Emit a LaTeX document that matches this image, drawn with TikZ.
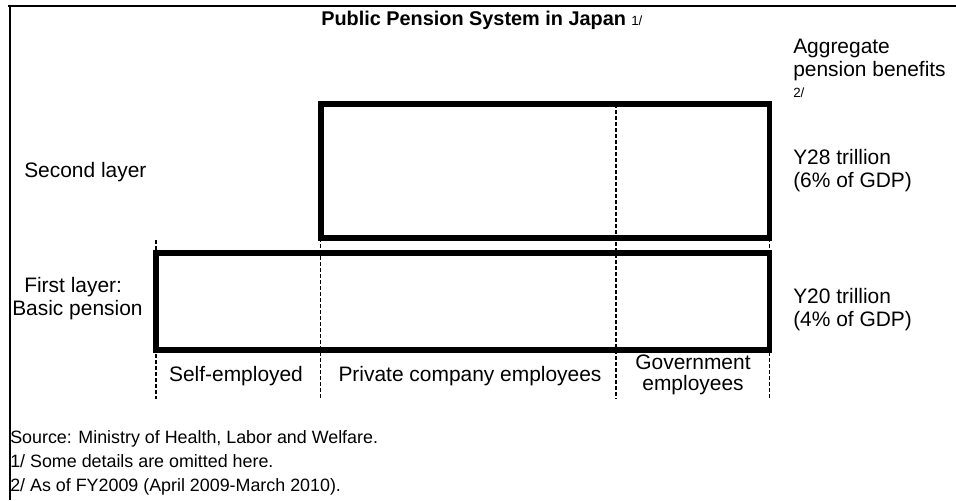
\documentclass[tikz,border=0pt]{standalone}
\usepackage{fontspec}
\setmainfont{Liberation Sans}
\begin{document}
\begin{tikzpicture}[x=0.75pt,y=-0.75pt,
  frameline/.style={line width=1.5pt},
  layerbox/.style={draw,line width=4.2pt,rectangle,inner sep=0pt,outer sep=0pt,anchor=north west},
  divider/.style={line width=1.2pt,dash pattern=on 3pt off 1.5pt},
  lbl/.style={inner sep=0pt,font=\fontsize{15.7}{18}\selectfont},
  foot/.style={inner sep=0pt,anchor=base west,font=\fontsize{13.4}{16}\selectfont},
  ttl/.style={inner sep=0pt,font=\fontsize{14.9}{17}\selectfont\bfseries},
  tinynote/.style={inner sep=0pt,font=\fontsize{10}{11}\selectfont}]
\useasboundingbox (0,0) rectangle (956,500);

% outer frame: top rule and left rule only
\coordinate (ftl) at (9.7,6.3);
\coordinate (ftr) at (956,6.3);
\coordinate (fbl) at (9.7,500);
\draw[frameline] (8,6.3) -- (ftr);
\draw[frameline] (ftl) -- (fbl);

% column dividers
\coordinate (d1t) at (156,240);  \coordinate (d1b) at (156,399);
\coordinate (d2t) at (320.5,238); \coordinate (d2b) at (320.5,399);
\coordinate (d3t) at (616,104);  \coordinate (d3b) at (616,399);
\coordinate (d4t) at (769.5,238); \coordinate (d4b) at (769.5,399);
\draw[divider] (d1t) -- (d1b);
\draw[divider] (d2t) -- (d2b);
\draw[divider] (d3t) -- (d3b);
\draw[divider] (d4t) -- (d4b);

% the two layers
\node[layerbox,minimum width=336.4pt,minimum height=100.5pt] (second) at (321,104) {};
\node[layerbox,minimum width=460.1pt,minimum height=72.75pt] (first) at (156,253) {};

% title
\node[ttl,anchor=base west] (title) at (321,25) {Public Pension System in Japan};
\node[tinynote,anchor=base west] (tn1) at (631,25) {1/};

% right-hand column
\node[lbl,anchor=base west] (agg1) at (793,53) {Aggregate};
\node[lbl,anchor=base west] (agg2) at (793,76) {pension benefits};
\node[tinynote,anchor=base west] (tn2) at (793,97) {2/};
\node[lbl,anchor=base west] (v28) at (793,164) {Y28 trillion};
\node[lbl,anchor=base west] (p28) at (793,187) {(6\% of GDP)};
\node[lbl,anchor=base west] (v20) at (793,303) {Y20 trillion};
\node[lbl,anchor=base west] (p20) at (793,326) {(4\% of GDP)};

% left-hand labels
\node[lbl,anchor=base west] (sec) at (24,177) {Second layer};
\node[lbl,anchor=base west] (fl1) at (24,292) {First layer:};
\node[lbl,anchor=base west] (fl2) at (12,315) {Basic pension};

% column labels
\node[lbl,anchor=base] (self) at (236,381) {Self-employed};
\node[lbl,anchor=base] (priv) at (470,381) {Private company employees};
\node[lbl,anchor=base] (gov1) at (693,369) {Government};
\node[lbl,anchor=base] (gov2) at (693,390) {employees};

% notes
\node[foot] (src) at (10,443) {Source: Ministry of Health, Labor and Welfare.};
\node[foot] (n1) at (10,467) {1/ Some details are omitted here.};
\node[foot] (n2) at (10,491) {2/ As of FY2009 (April 2009-March 2010).};
\end{tikzpicture}
\end{document}
